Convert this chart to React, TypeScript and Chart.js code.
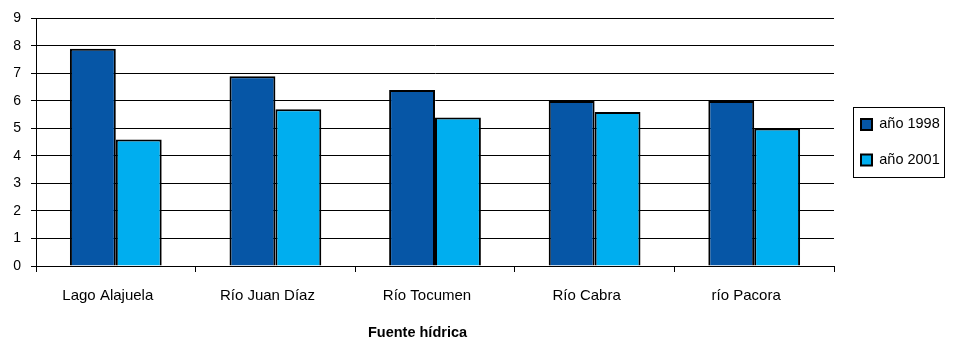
import React, { useEffect, useRef } from "react";
import { Chart, registerables } from "chart.js";

Chart.register(...registerables);

const categories = ["Lago Alajuela", "Río Juan Díaz", "Río Tocumen", "Río Cabra", "río Pacora"];
const series1998 = [7.9, 6.9, 6.4, 6.0, 6.0];
const series2001 = [4.6, 5.7, 5.4, 5.6, 5.0];
const seriesLabels = ["año 1998", "año 2001"];
const axisTitle = "Fuente hídrica";

const FONT = "'Liberation Sans', Arial, sans-serif";

export default function App() {
  const ref = useRef<HTMLCanvasElement | null>(null);

  useEffect(() => {
    if (!ref.current) return;
    const legendTweak = {
      id: "legendTweak",
      beforeLayout(chart: any) {
        const lg = chart.legend;
        if (lg && !lg.__wrapped) {
          const orig = lg.fit.bind(lg);
          lg.fit = function () {
            orig();
            this.width = 121;
          };
          lg.__wrapped = true;
        }
      },
      afterLayout(chart: any) {
        const lg = chart.legend;
        if (lg) {
          lg.left = 861 - 21;
          lg.top = chart.chartArea.top;
          lg.bottom = chart.chartArea.bottom;
        }
        const sx = chart.scales.x;
        if (sx && !sx.__wrapped) {
          const origTitle = sx.drawTitle.bind(sx);
          sx.drawTitle = function () {
            const l = this.left;
            this.left = l - 35;
            origTitle();
            this.left = l;
          };
          sx.__wrapped = true;
        }
      },
      afterDraw(chart: any) {
        const lg = chart.legend;
        if (!lg || !lg.legendHitBoxes || !lg.legendHitBoxes.length) return;
        const hb = lg.legendHitBoxes;
        const first = hb[0];
        const last = hb[hb.length - 1];
        const c1 = first.top + first.height / 2;
        const c2 = last.top + last.height / 2;
        const ctx = chart.ctx;
        ctx.save();
        ctx.strokeStyle = "#000";
        ctx.lineWidth = 1;
        const left = 853;
        const top = c1 - 17;
        const right = 944;
        const bottom = c2 + 18;
        ctx.strokeRect(left + 0.5, Math.round(top) + 0.5, right - left, Math.round(bottom - top));
        ctx.restore();
      },
    };

    const chart = new Chart(ref.current, {
      type: "bar",
      data: {
        labels: categories,
        datasets: [
          {
            label: seriesLabels[0],
            data: series1998,
            backgroundColor: "#0656A6",
            borderColor: "#000",
            borderWidth: 2,
            categoryPercentage: 0.575,
            barPercentage: 1,
          },
          {
            label: seriesLabels[1],
            data: series2001,
            backgroundColor: "#00AEEF",
            borderColor: "#000",
            borderWidth: 2,
            categoryPercentage: 0.575,
            barPercentage: 1,
          },
        ],
      },
      options: {
        responsive: false,
        animation: false,
        layout: { padding: { top: 17, right: 0, left: 0, bottom: 0 } },
        plugins: {
          tooltip: { enabled: false },
          legend: {
            position: "right",
            labels: {
              boxWidth: 11,
              boxHeight: 11,
              padding: 21,
              color: "#000",
              font: { family: FONT, size: 14.5 },
            },
          },
        },
        scales: {
          x: {
            afterFit(scale: any) {
              scale.height = 74;
            },
            grid: {
              display: true,
              drawOnChartArea: false,
              drawTicks: true,
              offset: true,
              tickLength: 6,
              color: "#000",
              lineWidth: 1,
            },
            border: { display: true, color: "#000", width: 1 },
            ticks: {
              color: "#000",
              padding: 15,
              maxRotation: 0,
              labelOffset: -8,
              font: { family: FONT, size: 15 },
            },
            title: {
              display: true,
              text: axisTitle,
              color: "#000",
              padding: { top: 0, bottom: 0 },
              font: { family: FONT, size: 14.5, weight: "bold", lineHeight: 1 },
            },
          },
          y: {
            min: 0,
            max: 9,
            afterFit(scale: any) {
              scale.width = 36;
            },
            grid: {
              display: true,
              color: "#000",
              lineWidth: 1,
              tickLength: 5,
              drawTicks: true,
            },
            border: { display: true, color: "#000", width: 1 },
            ticks: {
              stepSize: 1,
              color: "#000",
              padding: 10,
              font: { family: FONT, size: 14 },
            },
          },
        },
      },
      plugins: [legendTweak],
    } as any);
    return () => chart.destroy();
  }, []);

  return (
    <div style={{ position: "fixed", left: 0, top: 0, width: 955, height: 340, background: "#fff" }}>
      <canvas ref={ref} width={955} height={340} style={{ width: 955, height: 340, display: "block" }} />
    </div>
  );
}
